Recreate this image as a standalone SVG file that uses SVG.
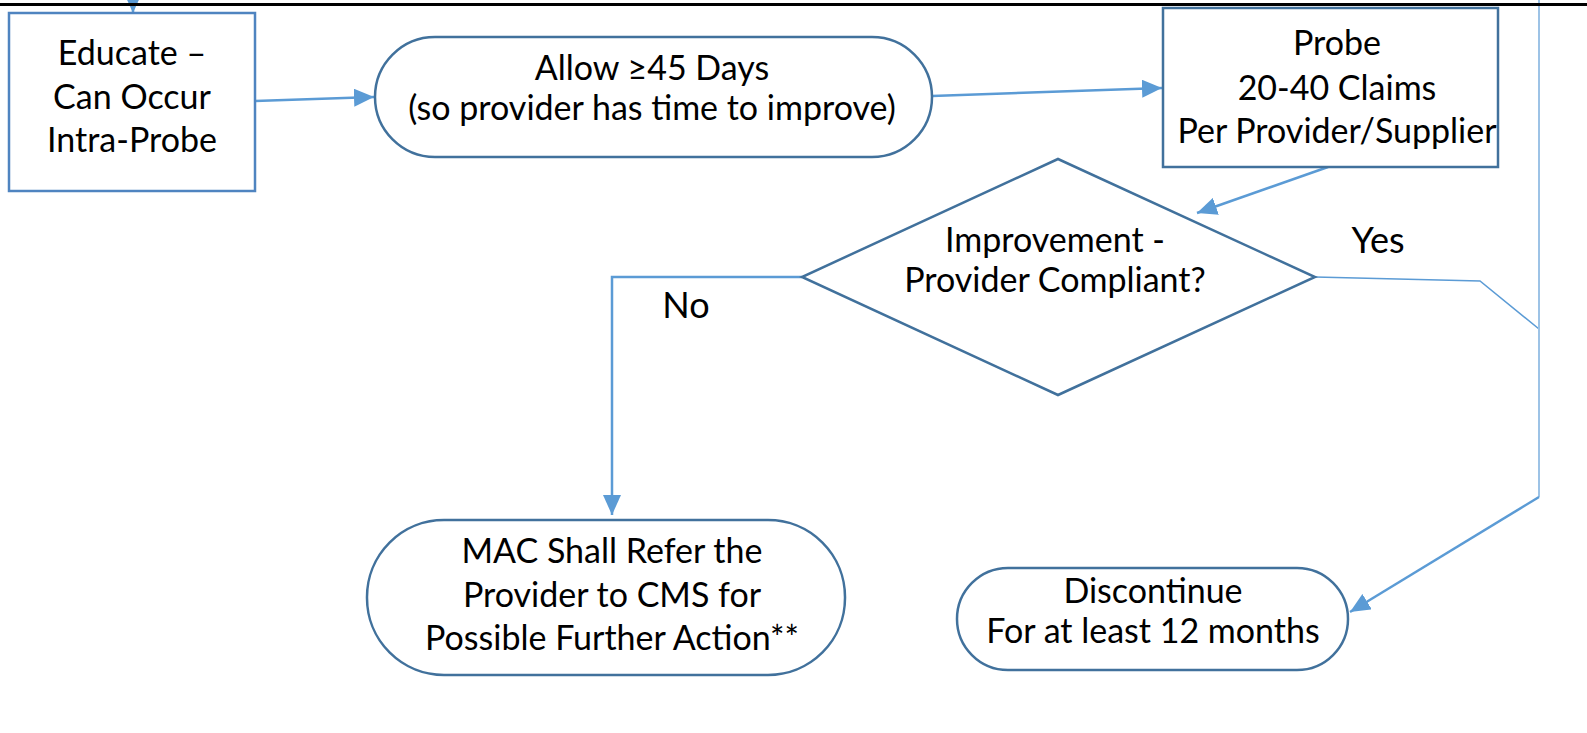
<svg xmlns="http://www.w3.org/2000/svg" width="1587" height="733" viewBox="0 0 1587 733">
<style>
.node{fill:#fff;stroke:#41719c;stroke-width:2.5}
.t{font-family:Lato,"Liberation Sans",sans-serif;font-size:34px;fill:#000;text-anchor:middle}
.c{fill:none;stroke:#5b9bd5;stroke-width:2.5}
.thin{fill:none;stroke:#5b9bd5;stroke-width:1.5}
.light{fill:none;stroke:#9dc3e6;stroke-width:2}
</style>
<defs>
<marker id="ah" markerUnits="userSpaceOnUse" markerWidth="21" markerHeight="18" refX="20" refY="9" orient="auto">
<path d="M0,0 L20,9 L0,18 Z" fill="#5b9bd5"/>
</marker>
</defs>
<rect width="1587" height="733" fill="#fff"/>
<g id="connectors">
<line class="c" x1="133" y1="0" x2="133" y2="13" marker-end="url(#ah)"/>
<line class="c" x1="255" y1="101" x2="374" y2="97" marker-end="url(#ah)"/>
<line class="c" x1="932" y1="96" x2="1162" y2="88" marker-end="url(#ah)"/>
<line class="c" x1="1328" y1="167" x2="1197" y2="213" marker-end="url(#ah)"/>
<polyline class="c" points="802,277 612,277 612,515" marker-end="url(#ah)"/>
<polyline class="thin" points="1315,277 1480,281 1539,329"/>
<line class="light" x1="1539" y1="0" x2="1539" y2="497"/>
<line class="c" x1="1539" y1="497" x2="1350" y2="612" marker-end="url(#ah)"/>
<text class="t" x="686" y="318" style="font-size:36px">No</text>
<text class="t" x="1378" y="253" style="font-size:36px">Yes</text>
</g>
<line x1="0" y1="4.5" x2="1587" y2="4.5" stroke="#000" stroke-width="3"/>
<g id="educate">
<rect class="node" x="9" y="13" width="246" height="178" style="stroke:#4f84c0"/>
<text class="t" x="132" y="65">Educate –</text>
<text class="t" x="132" y="109">Can Occur</text>
<text class="t" x="132" y="152">Intra-Probe</text>
</g>
<g id="allow">
<rect class="node" x="375" y="37" width="557" height="120" rx="60" ry="60"/>
<text class="t" x="652" y="80">Allow ≥45 Days</text>
<text class="t" x="652" y="120">(so provider has time to improve)</text>
</g>
<g id="probe">
<rect class="node" x="1163" y="8" width="335" height="159"/>
<text class="t" x="1337" y="55">Probe</text>
<text class="t" x="1337" y="100">20-40 Claims</text>
<text class="t" x="1337" y="143">Per Provider/Supplier</text>
</g>
<g id="decision">
<polygon class="node" points="1058,159 1315,277 1058,395 802,277"/>
<text class="t" x="1055" y="252">Improvement -</text>
<text class="t" x="1055" y="292">Provider Compliant?</text>
</g>
<g id="refer">
<rect class="node" x="367" y="520" width="478" height="155" rx="77" ry="77"/>
<text class="t" x="612" y="563">MAC Shall Refer the</text>
<text class="t" x="612" y="607">Provider to CMS for</text>
<text class="t" x="612" y="650">Possible Further Action**</text>
</g>
<g id="discontinue">
<rect class="node" x="957" y="568" width="391" height="102" rx="51" ry="51"/>
<text class="t" x="1153" y="603">Discontinue</text>
<text class="t" x="1153" y="643">For at least 12 months</text>
</g>
</svg>
